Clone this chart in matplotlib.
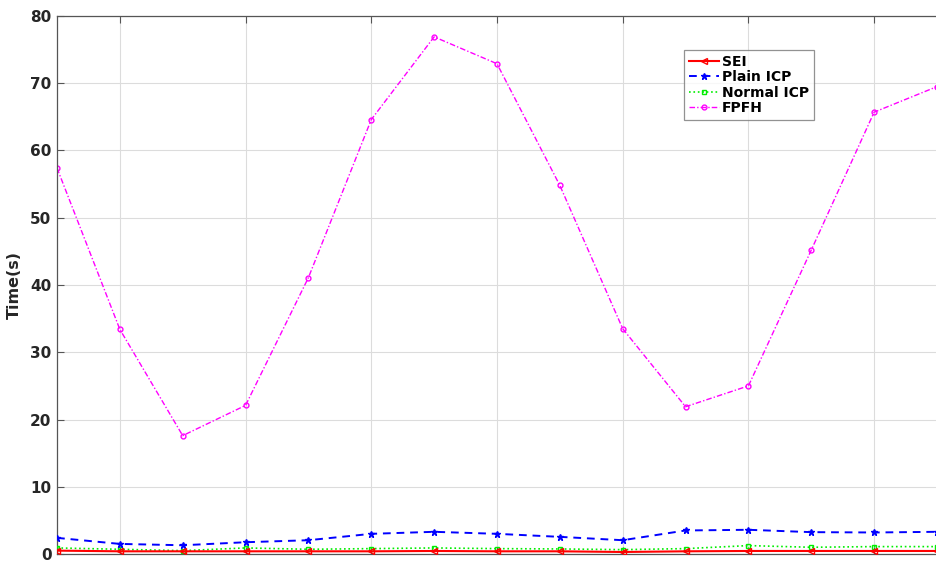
import matplotlib
matplotlib.use("Agg")
import matplotlib.pyplot as plt

# Frame index and run times (seconds) of the four registration methods
frames = list(range(1, 16))
sei = [0.5, 0.4, 0.4, 0.4, 0.4, 0.4, 0.45, 0.4, 0.4, 0.3, 0.4, 0.45, 0.45, 0.45, 0.45]
plain_icp = [2.4, 1.5, 1.3, 1.75, 2.05, 3.0, 3.3, 3.0, 2.55, 2.05, 3.5, 3.6, 3.25, 3.2, 3.3]
normal_icp = [0.9, 0.7, 0.5, 0.9, 0.7, 0.8, 0.9, 0.8, 0.75, 0.65, 0.8, 1.25, 1.0, 1.1, 1.1]
fpfh = [57.4, 33.4, 17.6, 22.1, 41.1, 64.6, 76.9, 72.9, 54.8, 33.5, 21.9, 25.0, 45.2, 65.7, 69.5]

y_ticks = [0, 10, 20, 30, 40, 50, 60, 70, 80]
x_ticks = [2, 4, 6, 8, 10, 12, 14]

fig = plt.figure(figsize=(9.37, 5.63), dpi=100)
ax = fig.add_axes([57 / 937, 1 - 554 / 563, 1 - 57 / 937, (554 - 16) / 563])

ax.plot(frames, sei, color="#ff0000", linestyle="-", linewidth=1.5,
        marker="<", markersize=4, markerfacecolor="none", label="SEI", zorder=5)
ax.plot(frames, plain_icp, color="#0000ff", linestyle=(0, (4, 3)), linewidth=1.4,
        marker="*", markersize=5, label="Plain ICP", zorder=4)
ax.plot(frames, normal_icp, color="#00ee00", linestyle=":", linewidth=1.2,
        marker="s", markersize=3.5, markerfacecolor="none", label="Normal ICP", zorder=3)
ax.plot(frames, fpfh, color="#ff00ff", linestyle=(0, (4, 1.5, 1, 1.5)), linewidth=1.0,
        marker="o", markersize=3.5, markerfacecolor="none", label="FPFH", zorder=2)

ax.set_xlim(1, 15)
ax.set_ylim(0, 80)
ax.set_xticks(x_ticks)
ax.set_yticks(y_ticks)
ax.set_yticklabels([str(v) for v in y_ticks], fontsize=11, fontweight="bold", color="#262626")
ax.tick_params(axis="x", direction="in", top=True, labelbottom=False, length=5, color="#555555")
ax.tick_params(axis="y", direction="in", length=5, color="#555555", pad=4)
ax.grid(True, color="#dcdcdc", linewidth=0.8)
ax.set_axisbelow(True)

for side in ("left", "top", "bottom"):
    ax.spines[side].set_color("#555555")
    ax.spines[side].set_linewidth(0.9)
ax.spines["right"].set_visible(False)

ax.set_ylabel("Time(s)", fontsize=11.5, fontweight="bold", color="#262626", labelpad=6)

leg = ax.legend(loc="upper left", bbox_to_anchor=((684 - 57) / 880, (554 - 50) / 538),
                prop={"weight": "bold", "size": 10}, frameon=True, fancybox=False,
                handlelength=2.2, handletextpad=0.2, borderpad=0.35, labelspacing=0.1,
                borderaxespad=0)
leg.get_frame().set_edgecolor("#777777")
leg.get_frame().set_linewidth(0.9)

fig.savefig("out.png", dpi=100)
